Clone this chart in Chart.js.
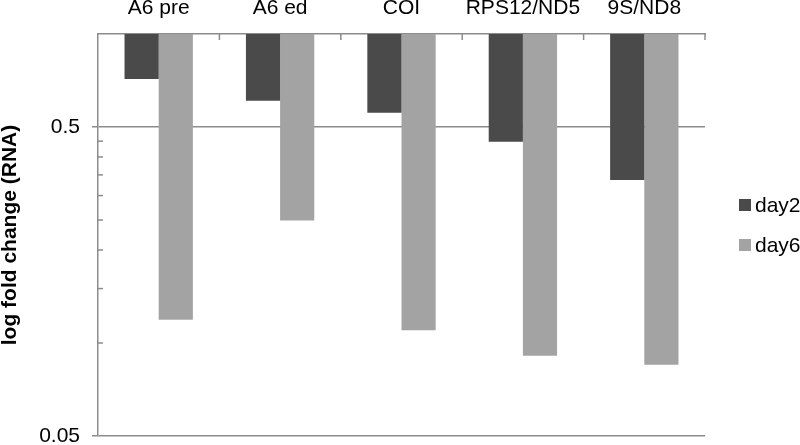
<!DOCTYPE html>
<html>
<head>
<meta charset="utf-8">
<script src="https://cdn.jsdelivr.net/npm/chart.js@4"></script>
<style>
	html, body { margin: 0; padding: 0; background: #fff; }
	#wrap { width: 800px; height: 445px; }
</style>
</head>
<body>
<div id="wrap"><canvas id="foldChart"></canvas></div>
<script>
const categories = ['A6 pre', 'A6 ed', 'COI', 'RPS12/ND5', '9S/ND8'];
const day2 = [0.715, 0.608, 0.556, 0.448, 0.337];
const day6 = [0.119, 0.249, 0.110, 0.091, 0.085];
const majorTicks = [0.05, 0.5];
const minorTicks = [0.1, 0.15, 0.2, 0.25, 0.3, 0.35, 0.4, 0.45];
const yMin = 0.05;
const yMax = 1;

const axisColor = '#8c8c8c';
const fontFamily = '"Liberation Sans", Arial, sans-serif';

// bars hang down from the top of the axis (Excel style), so use floating bars
function hanging(values) {
	return values.map(v => [v, yMax]);
}

// minor ticks, inner category ticks and the legend on the right
const extrasPlugin = {
	id: 'extras',
	afterDraw(chart) {
		const { ctx, chartArea, scales } = chart;
		const x = scales.x;
		const y = scales.y;
		ctx.save();
		ctx.strokeStyle = axisColor;
		ctx.lineWidth = 1.5;

		minorTicks.forEach(v => {
			const py = y.getPixelForValue(v);
			ctx.beginPath();
			ctx.moveTo(chartArea.left, py);
			ctx.lineTo(chartArea.left + 5, py);
			ctx.stroke();
		});

		const step = x.getPixelForValue(1) - x.getPixelForValue(0);
		for (let i = 0; i < categories.length; i++) {
			const px = x.getPixelForValue(i) + step / 2;
			ctx.beginPath();
			ctx.moveTo(px, chartArea.top);
			ctx.lineTo(px, chartArea.top + 6);
			ctx.stroke();
		}

		const mid = (chartArea.top + chartArea.bottom) / 2;
		ctx.font = '21px ' + fontFamily;
		ctx.textBaseline = 'middle';
		ctx.textAlign = 'left';
		chart.data.datasets.forEach((ds, i) => {
			const cy = mid - 30 + i * 40;
			ctx.fillStyle = ds.backgroundColor;
			ctx.fillRect(chartArea.right + 34, cy - 6, 12, 12);
			ctx.fillStyle = '#000';
			ctx.fillText(ds.label, chartArea.right + 50, cy + 1);
		});
		ctx.restore();
	}
};

function drawChart() {
	const context = document.getElementById('foldChart').getContext('2d');
	new Chart(context, {
		type: 'bar',
		data: {
			labels: categories,
			datasets: [{
				label: 'day2',
				data: hanging(day2),
				backgroundColor: '#4a4a4a',
				categoryPercentage: 0.563,
				barPercentage: 1
			}, {
				label: 'day6',
				data: hanging(day6),
				backgroundColor: '#a3a3a3',
				categoryPercentage: 0.563,
				barPercentage: 1
			}]
		},
		options: {
			responsive: true,
			maintainAspectRatio: false,
			animation: false,
			layout: { padding: { top: 0, right: 95, bottom: 9, left: 0 } },
			plugins: {
				legend: { display: false },
				tooltip: { enabled: false }
			},
			scales: {
				x: {
					position: 'top',
					grid: { display: true, drawOnChartArea: false, drawTicks: false },
					border: { display: true, color: axisColor, width: 1.5 },
					ticks: {
						color: '#000',
						padding: 13,
						font: { family: fontFamily, size: 21 }
					},
					afterFit(scale) { scale.height = 34; }
				},
				y: {
					type: 'logarithmic',
					min: yMin,
					max: yMax,
					afterBuildTicks(scale) {
						scale.ticks = majorTicks.map(v => ({ value: v }));
					},
					afterFit(scale) {
						scale.width = 98;
						scale.paddingTop = 0;
						scale.paddingBottom = 0;
					},
					grid: {
						color: axisColor,
						lineWidth: 1.5,
						tickLength: 6,
						tickColor: axisColor
					},
					border: { display: true, color: axisColor, width: 1.5 },
					ticks: {
						color: '#000',
						padding: 12,
						font: { family: fontFamily, size: 21 },
						callback: v => String(v)
					},
					title: {
						display: true,
						text: 'log fold change (RNA)',
						color: '#000',
						padding: 0,
						font: { family: fontFamily, size: 21, weight: 'bold', lineHeight: 1 }
					}
				}
			}
		},
		plugins: [extrasPlugin]
	});
}

window.onload = function () {
	drawChart();
};
</script>
</body>
</html>
